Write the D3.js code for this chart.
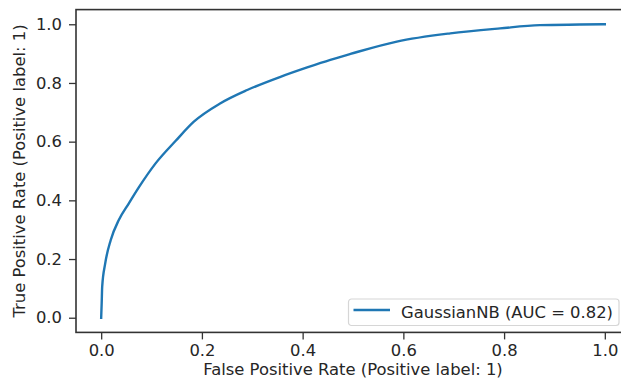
<!DOCTYPE html>
<html>
<head>
<meta charset="utf-8">
<script src="https://cdn.jsdelivr.net/npm/d3@7"></script>
<style>
  body { margin: 0; background: #fff; }
  text { font-family: "DejaVu Sans", sans-serif; fill: #262626; }
</style>
</head>
<body>
<div id="chart"></div>
<script>
// ROC curve points
let fpr = [0, 0.001, 0.002, 0.008, 0.019, 0.035, 0.055, 0.075, 0.108, 0.148, 0.184, 0.237,
  0.290, 0.356, 0.409, 0.455, 0.495, 0.587, 0.693, 0.792, 0.871, 0.95, 1.0];
let tpr = [0, 0.05, 0.106, 0.185, 0.265, 0.333, 0.390, 0.445, 0.526, 0.603, 0.668, 0.731,
  0.776, 0.821, 0.853, 0.879, 0.899, 0.941, 0.969, 0.986, 0.997, 0.999, 1.0];
let ticks = [0, 0.2, 0.4, 0.6, 0.8, 1.0];
let seriesName = "GaussianNB (AUC = 0.82)";
let xTitle = "False Positive Rate (Positive label: 1)";
let yTitle = "True Positive Rate (Positive label: 1)";

let svgWidth = 621;
let svgHeight = 383;
let fontSize = "16.4px";

// axes box, right spine falls outside the picture
let margin = { top: 9.6, right: -9, bottom: 50.6, left: 76 };
let width = svgWidth - margin.left - margin.right;
let height = svgHeight - margin.top - margin.bottom;

let svg = d3.select("#chart")
  .append("svg")
  .attr("width", svgWidth)
  .attr("height", svgHeight);

let chartGroup = svg.append("g")
  .attr("transform", `translate(${margin.left}, ${margin.top})`);

let data = fpr.map((f, i) => ({ x: f, y: tpr[i] }));

let xScale = d3.scaleLinear().domain([-0.05, 1.05]).range([0, width]);
let yScale = d3.scaleLinear().domain([-0.05, 1.05]).range([height, 0]);

let bottomAxis = d3.axisBottom(xScale).tickValues(ticks).tickFormat(d3.format(".1f"))
  .tickSize(7).tickPadding(4.5);
let leftAxis = d3.axisLeft(yScale).tickValues(ticks).tickFormat(d3.format(".1f"))
  .tickSize(7).tickPadding(7);

// the curve
let line = d3.line()
  .x(d => xScale(d.x))
  .y(d => yScale(d.y))
  .curve(d3.curveMonotoneX);
chartGroup.append("path")
  .datum(data)
  .attr("d", line)
  .attr("fill", "none")
  .attr("stroke", "#1f77b4")
  .attr("stroke-width", 2.4)
  .attr("stroke-linejoin", "round")
  .attr("stroke-linecap", "square");

// axes
function styleAxis(g) {
  g.select(".domain").remove();
  g.selectAll(".tick line").attr("stroke", "#333").attr("stroke-width", 1.3);
  g.selectAll(".tick text").style("font-size", fontSize).attr("fill", "#262626");
}
chartGroup.append("g")
  .attr("transform", `translate(0, ${height})`)
  .call(bottomAxis)
  .call(styleAxis);
chartGroup.append("g")
  .call(leftAxis)
  .call(styleAxis);

// spines
chartGroup.append("rect")
  .attr("width", width)
  .attr("height", height)
  .attr("fill", "none")
  .attr("stroke", "#333")
  .attr("stroke-width", 1.6);

// legend
let legend = chartGroup.append("g")
  .attr("transform", `translate(${348.5 - margin.left}, ${299 - margin.top})`);
legend.append("rect")
  .attr("width", 270.5)
  .attr("height", 26.5)
  .attr("rx", 3)
  .attr("fill", "#fff")
  .attr("stroke", "#d6d6d6")
  .attr("stroke-width", 1.2);
legend.append("line")
  .attr("x1", 5).attr("x2", 41.5)
  .attr("y1", 11).attr("y2", 11)
  .attr("stroke", "#1f77b4")
  .attr("stroke-width", 2.4);
legend.append("text")
  .attr("x", 52.5)
  .attr("y", 19.3)
  .style("font-size", fontSize)
  .text(seriesName);

// axis titles
chartGroup.append("text")
  .attr("transform", `translate(${xScale(0.5)}, ${height + 43})`)
  .style("font-size", fontSize)
  .style("text-anchor", "middle")
  .text(xTitle);

chartGroup.append("text")
  .attr("transform", `translate(${-margin.left + 25}, ${height / 2}) rotate(-90)`)
  .style("font-size", fontSize)
  .style("text-anchor", "middle")
  .text(yTitle);
</script>
</body>
</html>
